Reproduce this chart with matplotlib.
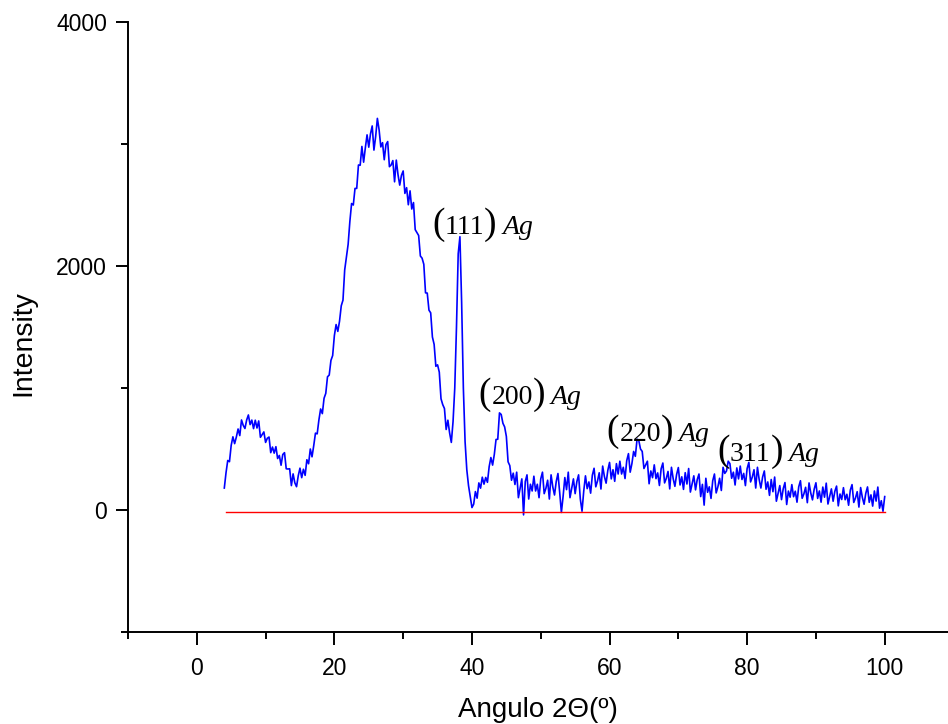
import numpy as np
import matplotlib
matplotlib.use("Agg")
import matplotlib.pyplot as plt
from matplotlib.ticker import FixedLocator
from matplotlib.offsetbox import TextArea, HPacker, AnnotationBbox

plt.rcParams['font.family'] = ['Liberation Sans', 'DejaVu Sans']

# XRD scan: start angle and step (degrees 2-theta)
scan_start = 4.0
scan_step = 0.25
intensity = [
    180, 306, 406, 396, 530, 600, 544, 598, 664, 610,      # 4.0 - 6.25
    738, 694, 668, 738, 779, 700, 737, 667, 736, 672,      # 6.5 - 8.75
    730, 596, 618, 640, 554, 588, 598, 470, 516, 466,      # 9.0 - 11.25
    519, 422, 447, 367, 455, 470, 338, 336, 338, 200,      # 11.5 - 13.75
    296, 223, 191, 281, 343, 265, 334, 284, 412, 379,      # 14.0 - 16.25
    500, 436, 528, 630, 624, 738, 828, 790, 916, 956,      # 16.5 - 18.75
    1092, 1106, 1226, 1266, 1430, 1520, 1464, 1548, 1674, 1720,  # 19.0 - 21.25
    1968, 2074, 2178, 2364, 2512, 2500, 2636, 2636, 2828, 2826,  # 21.5 - 23.75
    2980, 2851, 2968, 3075, 2974, 3083, 3148, 2950, 3061, 3210,  # 24.0 - 26.25
    3117, 2976, 3011, 2871, 2995, 3020, 2814, 2828, 2864, 2690,  # 26.5 - 28.75
    2868, 2749, 2663, 2743, 2779, 2595, 2642, 2502, 2616, 2467,  # 29.0 - 31.25
    2520, 2298, 2274, 2250, 2082, 2064, 2014, 1780, 1778, 1638,  # 31.5 - 33.75
    1616, 1418, 1358, 1178, 1190, 1130, 912, 864, 832, 660,      # 34.0 - 36.25
    736, 632, 554, 724, 1000, 1500, 2100, 2240, 1700, 1000,      # 36.5 - 38.75
    560, 330, 200, 110, 20, 48, 151, 97, 222, 179,               # 39.0 - 41.25
    269, 212, 267, 227, 355, 430, 368, 456, 578, 580,            # 41.5 - 43.75
    796, 783, 711, 681, 603, 395, 364, 244, 302, 209,            # 44.0 - 46.25
    310, 101, 178, 255, -40, 233, 288, 90, 211, 156,             # 46.5 - 48.75
    277, 156, 211, 101, 255, 310, 134, 178, 244, 90,             # 49.0 - 51.25
    288, 189, 123, 233, 299, 145, -20, 112, 266, 167,            # 51.5 - 53.75
    310, 101, 178, 255, 134, 233, 288, 90, -10, 156,             # 54.0 - 56.25
    280, 175, 230, 138, 285, 342, 190, 238, 305, 172,            # 56.5 - 58.75
    360, 275, 220, 325, 390, 255, 330, 235, 380, 295,            # 59.0 - 61.25
    400, 295, 350, 258, 405, 462, 310, 380, 480, 440,            # 61.5 - 63.75
    580, 570, 500, 480, 340, 370, 400, 215, 320, 265,            # 64.0 - 66.25
    370, 257, 304, 201, 338, 385, 222, 259, 316, 173,            # 66.5 - 68.75
    350, 257, 194, 291, 348, 205, 272, 169, 306, 213,            # 69.0 - 71.25
    340, 147, 214, 280, 165, 250, 295, 110, 210, 40,             # 71.5 - 73.75
    260, 145, 190, 95, 240, 295, 140, 190, 260, 160,             # 74.0 - 76.25
    350, 300, 320, 400, 380, 260, 310, 205, 345, 255,            # 76.5 - 78.75
    360, 250, 300, 200, 340, 390, 230, 270, 330, 180,            # 79.0 - 81.25
    350, 250, 180, 270, 320, 170, 230, 120, 250, 150,            # 81.5 - 83.75
    270, 72, 135, 200, 85, 175, 225, 45, 155, 105,               # 84.0 - 86.25
    208, 109, 154, 64, 190, 240, 96, 132, 186, 60,               # 86.5 - 88.75
    222, 139, 83, 171, 223, 95, 156, 64, 188, 105,               # 89.0 - 91.25
    220, 49, 110, 173, 72, 153, 196, 34, 131, 86,                # 91.5 - 93.75
    183, 84, 129, 39, 163, 208, 62, 98, 150, 24,                 # 94.0 - 96.25
    184, 103, 47, 137, 189, 63, 124, 32, 156, 73,                # 96.5 - 98.75
    188, 15, 76, -10, 110,                                       # 99.0 - 100.0
]
two_theta = scan_start + scan_step * np.arange(len(intensity))

baseline_x = [4.2, 100.0]
baseline_y = [-15, -15]

peak_hkl = ['111', '200', '220', '311']
peak_label_x = [34.2, 41.0, 59.6, 75.7]
peak_label_y = [2340, 945, 640, 475]

fig = plt.figure(figsize=(9.48, 7.24), dpi=100)
ax = fig.add_axes([128/948, 92/724, 820/948, 610/724])

ax.plot(two_theta, intensity, color='#0000ff', lw=1.2)
ax.plot(baseline_x, baseline_y, color='#ff0000', lw=1.0)

serif = 'Liberation Serif'
for hkl, x, y in zip(peak_hkl, peak_label_x, peak_label_y):
    p1 = TextArea('(', textprops=dict(family=serif, size=27))
    num = TextArea(hkl, textprops=dict(family=serif, size=20))
    p2 = TextArea(')', textprops=dict(family=serif, size=27))
    ag = TextArea('Ag', textprops=dict(family=serif, size=20, style='italic'))
    inner = HPacker(children=[p1, num, p2], align='baseline', pad=0, sep=0)
    box = HPacker(children=[inner, ag], align='baseline', pad=0, sep=4)
    ab = AnnotationBbox(box, (x, y), xycoords='data', box_alignment=(0, 0.5),
                        frameon=False, pad=0)
    ax.add_artist(ab)

ax.set_xlim(-10, 109.2)
ax.set_ylim(-1000, 4000)
ax.xaxis.set_major_locator(FixedLocator([0, 20, 40, 60, 80, 100]))
ax.xaxis.set_minor_locator(FixedLocator([-10, 10, 30, 50, 70, 90]))
ax.yaxis.set_major_locator(FixedLocator([0, 2000, 4000]))
ax.yaxis.set_minor_locator(FixedLocator([-1000, 1000, 3000]))

for s in ['top', 'right']:
    ax.spines[s].set_visible(False)
for s in ['left', 'bottom']:
    ax.spines[s].set_linewidth(1.4)

ax.tick_params(which='major', direction='out', length=9, width=1.4,
               labelsize=16.5)
ax.tick_params(which='minor', direction='out', length=5, width=1.4)
ax.tick_params(axis='x', which='major', pad=9)
ax.tick_params(axis='y', which='major', pad=6)

ax.set_xlabel('Angulo 2\u0398(\u00ba)', fontsize=20, labelpad=12)
ax.set_ylabel('Intensity', fontsize=20.5)
ax.yaxis.set_label_coords(-0.112, 0.474)

fig.savefig('out.png', dpi=100)
